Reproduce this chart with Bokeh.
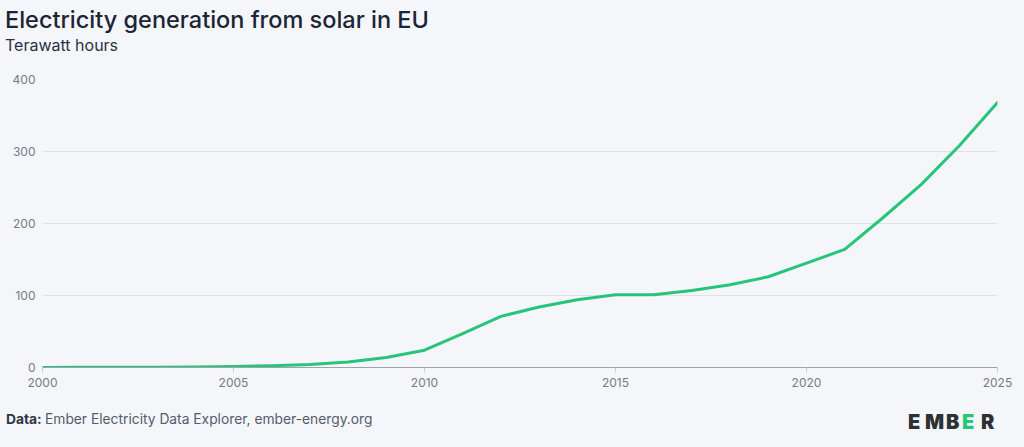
from bokeh.plotting import figure
from bokeh.models import Range1d, FixedTicker, Div
from bokeh.layouts import column
from bokeh.embed import file_html
from bokeh.resources import INLINE

years = list(range(2000, 2026))
solar_twh = [0.1, 0.2, 0.3, 0.5, 0.8, 1.5, 2.5, 4, 7.5, 14, 24, 47, 71, 84, 94,
             101, 101, 107, 115, 126, 145, 164, 208, 254, 308, 368]
y_ticks = [0, 100, 200, 300, 400]
x_ticks = [2000, 2005, 2010, 2015, 2020, 2025]

title_text = "Electricity generation from solar in EU"
subtitle_text = "Terawatt hours"
source_label = "Data:"
source_text = "Ember Electricity Data Explorer, ember-energy.org"
logo_letters = ["E", "M", "B", "E", "R"]

BG = "#f5f6fa"
GREEN = "#27c57a"
DARK = "#2e3033"
FONT = "Inter"
W = 1024
TOP_H, MAIN_H, BOT_H = 70, 330, 47


def span(text, left, top, size, color, weight=400):
    return (f'<div style="position:absolute;left:{left}px;top:{top}px;'
            f'font-family:{FONT};font-size:{size}px;line-height:1;color:{color};'
            f'font-weight:{weight};white-space:nowrap;margin:0;padding:0;">{text}</div>')


def box(inner, h):
    return (f'<div style="position:relative;width:{W}px;height:{h}px;'
            f'background:{BG};overflow:hidden;margin:0;padding:0;">{inner}</div>')


# header
header_html = (span(title_text, 5, 8, 23.5, "#1c2536", 500)
               + span(subtitle_text, 5, 37, 16, "#2a3242"))
top = Div(text=box(header_html, TOP_H), width=W, height=TOP_H,
          styles={"margin": "0", "padding": "0", "background-color": BG})

# main chart
p = figure(width=W, height=MAIN_H, output_backend="svg", toolbar_location=None,
           x_range=Range1d(2000, 2025), y_range=Range1d(0, 400),
           min_border_left=42, min_border_right=27, min_border_top=9, min_border_bottom=33)
p.background_fill_color = BG
p.border_fill_color = BG
p.outline_line_color = None

p.line(years, solar_twh, line_color=GREEN, line_width=3, line_join="round", line_cap="round")

p.xgrid.grid_line_color = None
p.ygrid.grid_line_color = "#dfe1e7"
p.ygrid.grid_line_width = 1
p.ygrid.ticker = FixedTicker(ticks=y_ticks)

p.yaxis.ticker = FixedTicker(ticks=y_ticks)
p.yaxis.axis_line_color = None
p.yaxis.major_tick_line_color = None
p.yaxis.minor_tick_line_color = None
p.yaxis.major_tick_out = 0
p.yaxis.major_label_standoff = 7
p.yaxis.major_label_text_font = FONT
p.yaxis.major_label_text_font_size = "12px"
p.yaxis.major_label_text_color = "#757b88"

p.xaxis.ticker = FixedTicker(ticks=x_ticks)
p.xaxis.axis_line_color = "#9ea2ad"
p.xaxis.axis_line_width = 1
p.xaxis.major_tick_line_color = "#c9ccd3"
p.xaxis.major_tick_out = 5
p.xaxis.major_tick_in = 0
p.xaxis.minor_tick_line_color = None
p.xaxis.major_label_standoff = 5
p.xaxis.major_label_text_font = FONT
p.xaxis.major_label_text_font_size = "12px"
p.xaxis.major_label_text_color = "#757b88"

# footer
logo_x = [908, 925, 946, 962, 981]
logo_c = [DARK, DARK, DARK, GREEN, DARK]
footer_html = (span(source_label, 6, 13, 13.8, "#2f3644", 700)
               + span(source_text, 45, 13, 13.8, "#555b6a"))
for letter, lx, lc in zip(logo_letters, logo_x, logo_c):
    footer_html += span(letter, lx, 12, 20, lc, 900)
bot = Div(text=box(footer_html, BOT_H), width=W, height=BOT_H,
          styles={"margin": "0", "padding": "0", "background-color": BG})

layout = column(top, p, bot, spacing=0)

html = file_html(layout, INLINE)
html = html.replace("<head>", "<head><style>body{background-color:#f5f6fa;}</style>", 1)
open("out.html", "w").write(html)
